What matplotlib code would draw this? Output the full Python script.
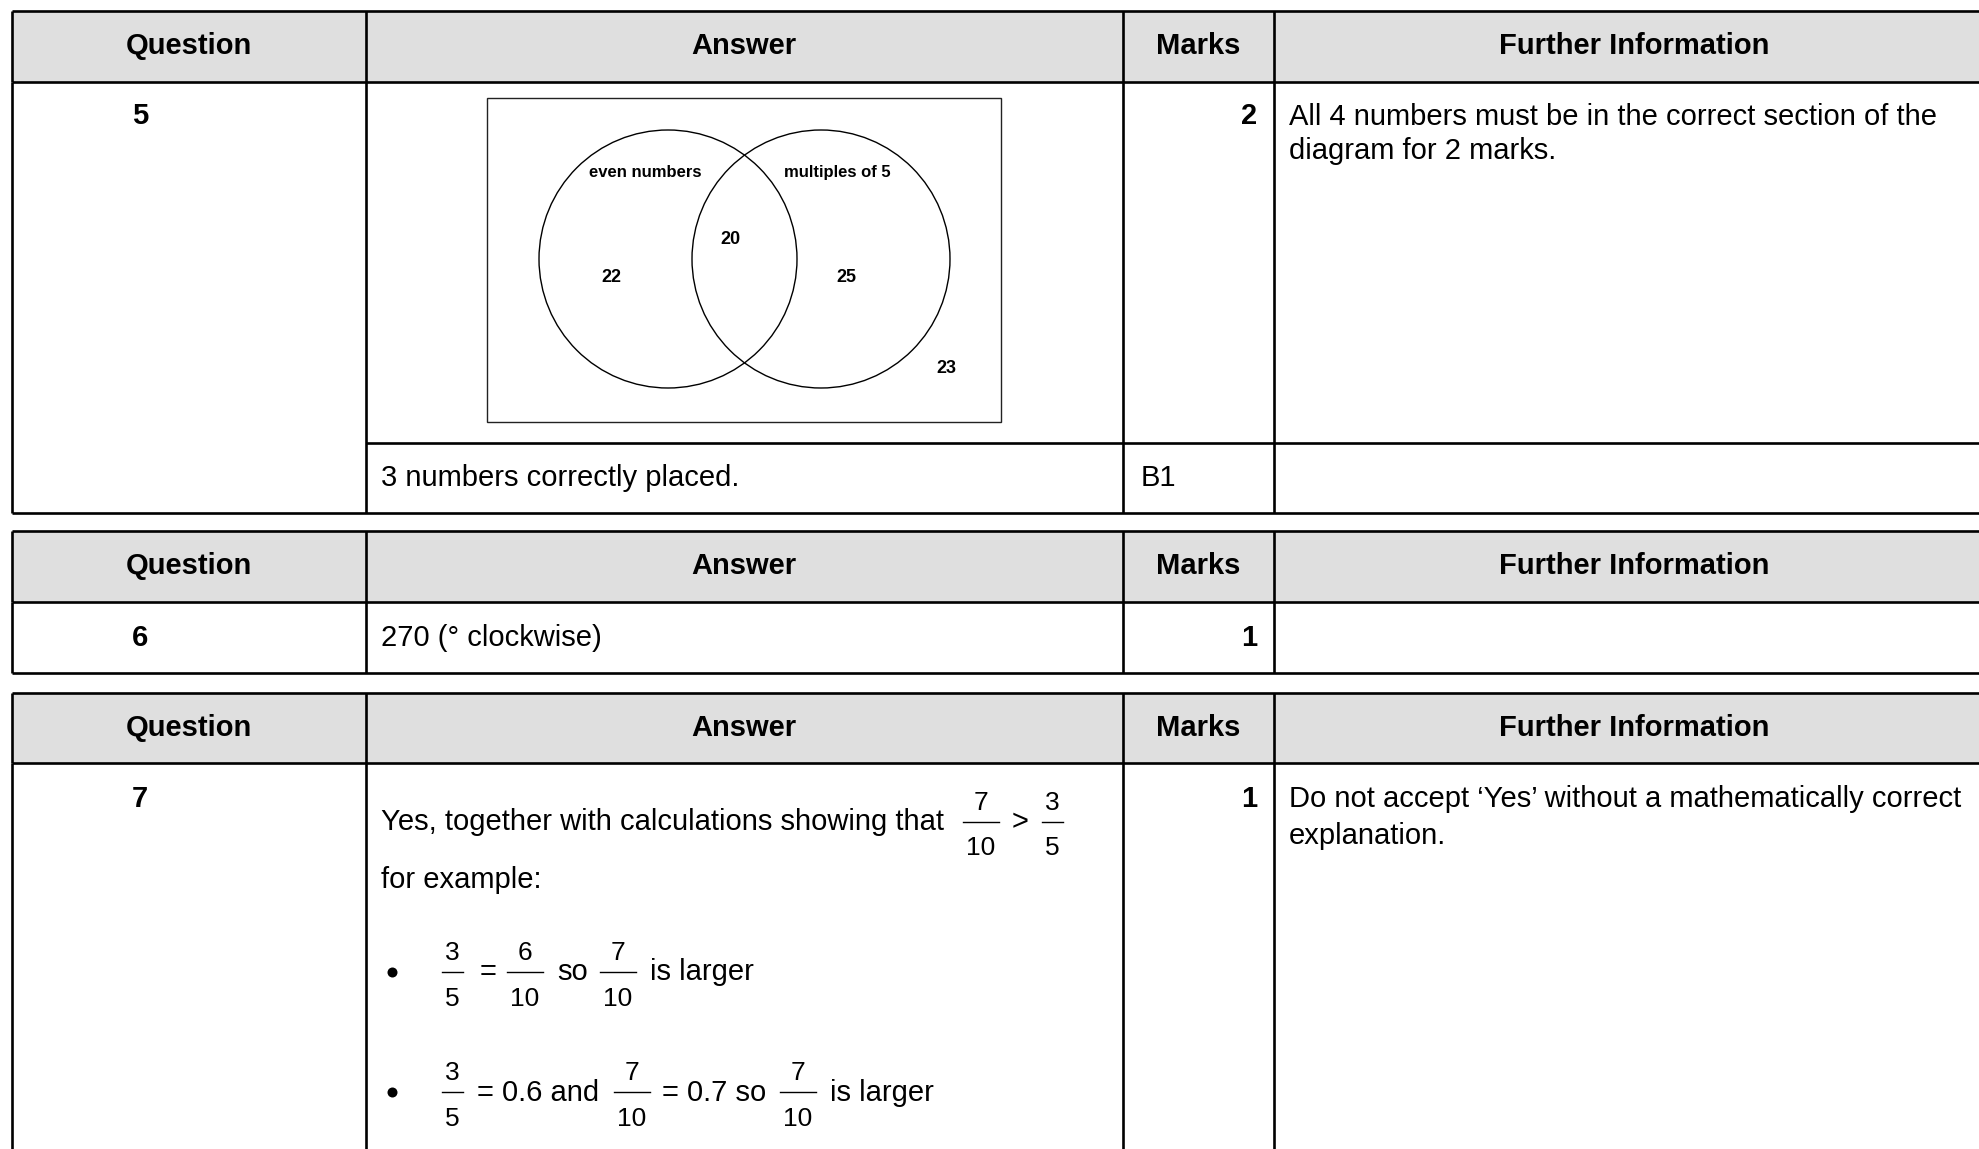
import matplotlib
matplotlib.use("Agg")
import matplotlib.pyplot as plt
from matplotlib.patches import Rectangle, Circle

# ---------------- data ----------------
headers = ["Question", "Answer", "Marks", "Further Information"]
questions = ["5", "6", "7"]
marks = ["2", "1", "1"]
q5_partial_answer = "3 numbers correctly placed."
q5_partial_mark = "B1"
q5_info = ["All 4 numbers must be in the correct section of the", "diagram for 2 marks."]
q6_answer = "270 (\u00b0 clockwise)"
q7_info = ["Do not accept \u2018Yes\u2019 without a mathematically correct", "explanation."]
venn_labels = ["even numbers", "multiples of 5"]
venn_even_only = "22"
venn_both = "20"
venn_five_only = "25"
venn_neither = "23"
q7_intro = "Yes, together with calculations showing that"
q7_compare = [("7", "10"), ("3", "5")]
q7_example = "for example:"
q7_bullet1 = [("3", "5"), ("6", "10"), ("7", "10")]
q7_bullet2 = [("3", "5"), ("7", "10"), ("7", "10")]

# ---------------- figure ----------------
W, H = 1979, 1149
fig = plt.figure(figsize=(W / 100, H / 100), dpi=100)
ax = fig.add_axes([0, 0, 1, 1])
ax.set_xlim(0, W)
ax.set_ylim(H, 0)
ax.axis("off")

FONT = "Liberation Sans"
MAIN = 21
FRAC = 19
LW = 1.9
HEAD_BG = "#dfdfdf"

cols = [11.5, 365.5, 1123, 1273.5, 1995]


def hline(y, x0, x1, lw=LW):
    ax.plot([x0, x1], [y, y], color="black", lw=lw, solid_capstyle="butt", zorder=3)


def vline(x, y0, y1, lw=LW):
    ax.plot([x, x], [y0, y1], color="black", lw=lw, solid_capstyle="butt", zorder=3)


def txt(x, y, s, size=MAIN, bold=False, ha="left"):
    ax.text(x, y, s, fontsize=size, fontfamily=FONT,
            fontweight="bold" if bold else "normal",
            ha=ha, va="baseline", color="black", zorder=4)


def header(top, bot):
    ax.add_patch(Rectangle((cols[0], top), cols[-1] - cols[0], bot - top,
                           facecolor=HEAD_BG, edgecolor="none", zorder=1))
    hline(top, cols[0], cols[-1])
    hline(bot, cols[0], cols[-1])
    for c in cols[:-1]:
        vline(c, top, bot)
    base = (top + bot) / 2 + 8.0
    for i, h in enumerate(headers):
        txt((cols[i] + cols[i + 1]) / 2, base, h, bold=True, ha="center")


def frac(xc, bar_y, num, den):
    w = 36 if len(den) > 1 else 21
    ax.plot([xc - w / 2, xc + w / 2], [bar_y, bar_y], color="black", lw=1.0, zorder=4)
    txt(xc, bar_y - 12, num, size=FRAC, ha="center")
    txt(xc, bar_y + 33.5, den, size=FRAC, ha="center")


def bullet(y):
    ax.plot([392], [y], marker="o", ms=7.2, color="black", mec="none", zorder=4)


# ---------------- table 1 (Q5) ----------------
t1_top, t1_head, t1_mid, t1_bot = 11, 82, 443, 513
header(t1_top, t1_head)
for c in cols[:-1]:
    vline(c, t1_head, t1_bot)
hline(t1_mid, cols[1], cols[-1])
hline(t1_bot, cols[0], cols[-1])

txt(140, 124, questions[0], bold=True, ha="center")
txt(1257, 124, marks[0], bold=True, ha="right")
txt(1289, 125, q5_info[0])
txt(1289, 159, q5_info[1])
txt(381, 486, q5_partial_answer)
txt(1141, 486, q5_partial_mark)

# Venn diagram
ax.add_patch(Rectangle((487, 98), 514, 324, facecolor="none", edgecolor="#222222", lw=1.0, zorder=3))
r = 129
ax.add_patch(Circle((668, 259), r, facecolor="none", edgecolor="black", lw=1.0, zorder=3))
ax.add_patch(Circle((821, 259), r, facecolor="none", edgecolor="black", lw=1.0, zorder=3))
txt(645, 177, venn_labels[0], size=12, bold=True, ha="center")
txt(837, 177, venn_labels[1], size=12, bold=True, ha="center")
txt(730, 244, venn_both, size=13, bold=True, ha="center")
txt(611, 282, venn_even_only, size=13, bold=True, ha="center")
txt(846, 282, venn_five_only, size=13, bold=True, ha="center")
txt(946, 373, venn_neither, size=13, bold=True, ha="center")

# ---------------- table 2 (Q6) ----------------
t2_top, t2_head, t2_bot = 531, 602, 673
header(t2_top, t2_head)
for c in cols[:-1]:
    vline(c, t2_head, t2_bot)
hline(t2_bot, cols[0], cols[-1])
txt(140, 646, questions[1], bold=True, ha="center")
txt(381, 646, q6_answer)
txt(1257, 646, marks[1], bold=True, ha="right")

# ---------------- table 3 (Q7) ----------------
t3_top, t3_head = 693, 763
header(t3_top, t3_head)
for c in cols[:-1]:
    vline(c, t3_head, H + 5)
txt(140, 807, questions[2], bold=True, ha="center")
txt(1257, 807, marks[2], bold=True, ha="right")
txt(1289, 807, q7_info[0])
txt(1289, 844, q7_info[1])

txt(381, 830, q7_intro)
frac(981, 821.5, *q7_compare[0])
txt(1020, 830, ">", ha="center")
frac(1052, 821.5, *q7_compare[1])
txt(381, 888, q7_example)

# bullet 1
bullet(971.7)
frac(452.5, 972, *q7_bullet1[0])
txt(488, 980, "=", ha="center")
frac(525, 972, *q7_bullet1[1])
txt(557, 980, "so")
frac(618, 972, *q7_bullet1[2])
txt(650, 980, "is larger")

# bullet 2
bullet(1092)
frac(452.5, 1092, *q7_bullet2[0])
txt(477, 1101, "= 0.6 and")
frac(632, 1092, *q7_bullet2[1])
txt(662, 1101, "= 0.7 so")
frac(798, 1092, *q7_bullet2[2])
txt(830, 1101, "is larger")

fig.savefig("out.png", dpi=100)
